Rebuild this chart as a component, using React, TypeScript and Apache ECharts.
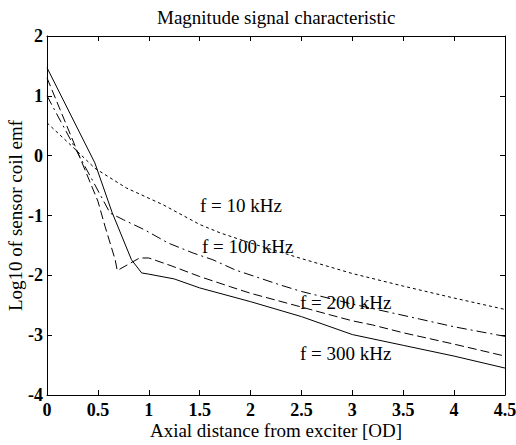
import React, { useEffect, useRef } from "react";
import * as echarts from "echarts";

const x10 = [0, 0.25, 0.47, 0.78, 1.14, 1.5, 1.7, 2, 2.5, 3, 3.5, 4, 4.5];
const y10 = [0.55, 0.15, -0.21, -0.54, -0.82, -1.15, -1.29, -1.46, -1.72, -1.97, -2.18, -2.38, -2.57];

const x100 = [0, 0.3, 0.62, 0.75, 0.96, 1.19, 1.44, 1.63, 1.85, 2.29, 2.5, 3, 3.37, 3.66, 4, 4.5];
const y100 = [1.0, 0.05, -0.96, -1.07, -1.24, -1.46, -1.63, -1.74, -1.91, -2.16, -2.27, -2.48, -2.62, -2.73, -2.86, -3.02];

const x200 = [0, 0.5, 0.57, 0.67, 0.69, 0.91, 1.0, 1.22, 1.5, 1.8, 2, 2.5, 2.78, 3, 3.2, 3.5, 4, 4.5];
const y200 = [1.3, -0.76, -1.18, -1.74, -1.92, -1.71, -1.71, -1.84, -2.02, -2.19, -2.3, -2.53, -2.66, -2.76, -2.83, -2.96, -3.15, -3.35];

const x300 = [0, 0.47, 0.64, 0.83, 0.93, 1.0, 1.25, 1.5, 2, 2.5, 3, 3.5, 4, 4.5];
const y300 = [1.47, -0.12, -0.95, -1.74, -1.96, -1.98, -2.06, -2.21, -2.44, -2.69, -2.99, -3.17, -3.35, -3.55];

const seriesNames = ["f = 10 kHz", "f = 100 kHz", "f = 200 kHz", "f = 300 kHz"];

const zip = (xs: number[], ys: number[]) => xs.map((x, i) => [x, ys[i]]);

const FONT = "'Liberation Serif', 'DejaVu Serif', serif";

export default function App() {
  const ref = useRef<HTMLDivElement>(null);
  useEffect(() => {
    if (!ref.current) return;
    const chart = echarts.init(ref.current, null, { renderer: "svg" });
    const axisLine = { show: true, onZero: false, lineStyle: { color: "#000", width: 1 } };
    const tick = { show: true, inside: true, length: 5, lineStyle: { color: "#000" } };
    const lineStyles = [
      { type: [3, 3] },
      { type: [10, 4, 2, 4] },
      { type: [9, 4] },
      { type: "solid" },
    ];
    const datas = [zip(x10, y10), zip(x100, y100), zip(x200, y200), zip(x300, y300)];
    chart.setOption({
      animation: false,
      backgroundColor: "#fff",
      title: {
        text: "Magnitude signal characteristic",
        left: 152,
        top: 3,
        textStyle: { fontFamily: FONT, fontSize: 19, fontWeight: "normal", color: "#000" },
      },
      grid: { left: 47, right: 11, top: 36, bottom: 50, containLabel: false, outerBoundsMode: "none" },
      xAxis: [
        {
          type: "value",
          min: 0,
          max: 4.5,
          interval: 0.5,
          name: "Axial distance from exciter [OD]",
          nameLocation: "middle",
          nameGap: 26,
          nameMoveOverlap: false,
          nameTextStyle: { fontFamily: FONT, fontSize: 19, color: "#000" },
          axisLine,
          axisTick: tick,
          splitLine: { show: false },
          axisLabel: { fontFamily: FONT, fontSize: 18, fontWeight: "bold", color: "#000", margin: 6 },
        },
        {
          type: "value",
          position: "top",
          min: 0,
          max: 4.5,
          interval: 0.5,
          axisLine,
          axisTick: tick,
          splitLine: { show: false },
          axisLabel: { show: false },
        },
      ],
      yAxis: [
        {
          type: "value",
          min: -4,
          max: 2,
          interval: 1,
          name: "Log10 of sensor coil emf",
          nameLocation: "middle",
          nameGap: 22,
          nameMoveOverlap: false,
          nameTextStyle: { fontFamily: FONT, fontSize: 19, color: "#000" },
          axisLine,
          axisTick: tick,
          splitLine: { show: false },
          axisLabel: { fontFamily: FONT, fontSize: 18, fontWeight: "bold", color: "#000", margin: 4 },
        },
        {
          type: "value",
          position: "right",
          min: -4,
          max: 2,
          interval: 1,
          axisLine,
          axisTick: tick,
          splitLine: { show: false },
          axisLabel: { show: false },
        },
      ],
      series: datas.map((d, i) => ({
        name: seriesNames[i],
        type: "line",
        data: d,
        showSymbol: false,
        symbol: "none",
        lineStyle: { color: "#000", width: 1, ...lineStyles[i] },
        z: 3,
      })),
      graphic: [
        { type: "text", left: 200, top: 196, style: { text: seriesNames[0], font: `19px ${FONT}`, fill: "#000" } },
        { type: "text", left: 202, top: 237, style: { text: seriesNames[1], font: `19px ${FONT}`, fill: "#000" } },
        { type: "text", left: 300, top: 293, style: { text: seriesNames[2], font: `19px ${FONT}`, fill: "#000" } },
        { type: "text", left: 300, top: 344, style: { text: seriesNames[3], font: `19px ${FONT}`, fill: "#000" } },
      ],
    });
    return () => chart.dispose();
  }, []);
  return (
    <div
      ref={ref}
      style={{ position: "fixed", left: 0, top: 0, width: 516, height: 445, background: "#fff" }}
    />
  );
}
